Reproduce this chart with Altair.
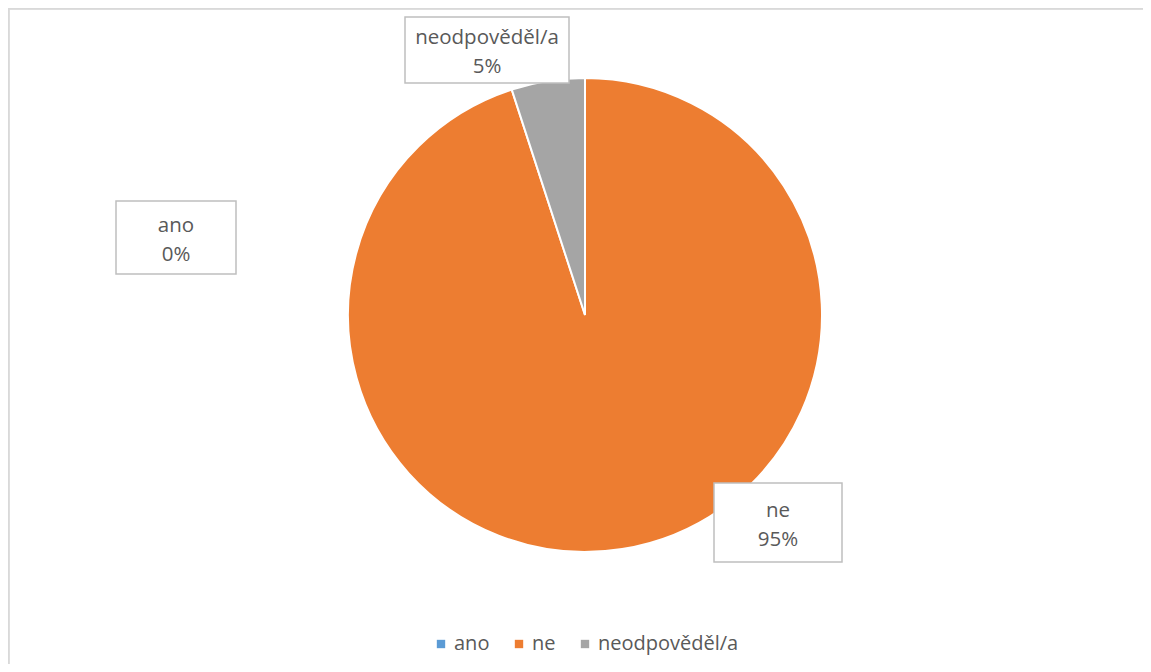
import altair as alt
import pandas as pd

categories = ["ano", "ne", "neodpověděl/a"]
values = [0, 95, 5]
pct_labels = ["0%", "95%", "5%"]
colors = ["#5B9BD5", "#ED7D31", "#A5A5A5"]

# label box layout (chart pixel coords: left, top, right, bottom)
box_left = [108, 706, 397]
box_top = [193, 475, 9]
box_right = [228, 834, 561]
box_bottom = [266, 554, 75]

df = pd.DataFrame({
    "category": categories,
    "value": values,
    "idx": list(range(len(categories))),
    "label": [f"{c}\n{p}" for c, p in zip(categories, pct_labels)],
    "bx": box_left, "by": box_top, "bx2": box_right, "by2": box_bottom,
})
df["cx"] = (df["bx"] + df["bx2"]) / 2
df["cy"] = (df["by"] + df["by2"]) / 2

W, H = 1135, 656
CX, CY, R = 577, 307, 237
BORDER = "#D9D9D9"

base = alt.Chart(df)

pie = base.mark_arc(radius=R, stroke="white", strokeWidth=2).encode(
    x=alt.value(CX), y=alt.value(CY),
    theta=alt.Theta("value:Q", stack=True),
    order=alt.Order("idx:Q"),
    color=alt.Color(
        "category:N",
        scale=alt.Scale(domain=categories, range=colors),
        sort=categories,
        legend=alt.Legend(
            title=None, orient="none", direction="horizontal",
            legendX=423, legendY=626, symbolType="square", symbolSize=70,
            symbolStrokeWidth=0, labelFontSize=20, labelColor="#595959",
            labelFont="Open Sans", labelOffset=3, columnPadding=19, padding=0,
        ),
    ),
)

boxes = base.mark_rect(fill="white", stroke="#BFBFBF", strokeWidth=1.5).encode(
    x=alt.X("bx:Q", scale=None), x2="bx2:Q",
    y=alt.Y("by:Q", scale=None), y2="by2:Q",
)

texts = base.mark_text(
    lineBreak="\n", lineHeight=29, fontSize=20.5, font="Open Sans",
    color="#595959", align="center", baseline="middle", dy=-12,
).encode(
    x=alt.X("cx:Q", scale=None), y=alt.Y("cy:Q", scale=None), text="label:N",
)

left_border = base.mark_rule(color=BORDER, strokeWidth=1.5).encode(
    x=alt.value(0.75), y=alt.value(0), y2=alt.value(H)
)
top_border = base.mark_rule(color=BORDER, strokeWidth=1.5).encode(
    y=alt.value(0.75), x=alt.value(0), x2=alt.value(W)
)

chart = alt.layer(pie, boxes, texts, left_border, top_border).properties(
    width=W, height=H, autosize=alt.AutoSizeParams(type="none"), padding=0,
    background="white",
).configure_view(strokeOpacity=0, strokeWidth=0, fill="white")

chart.save("out.html", embed_options={"renderer": "svg", "actions": False})
